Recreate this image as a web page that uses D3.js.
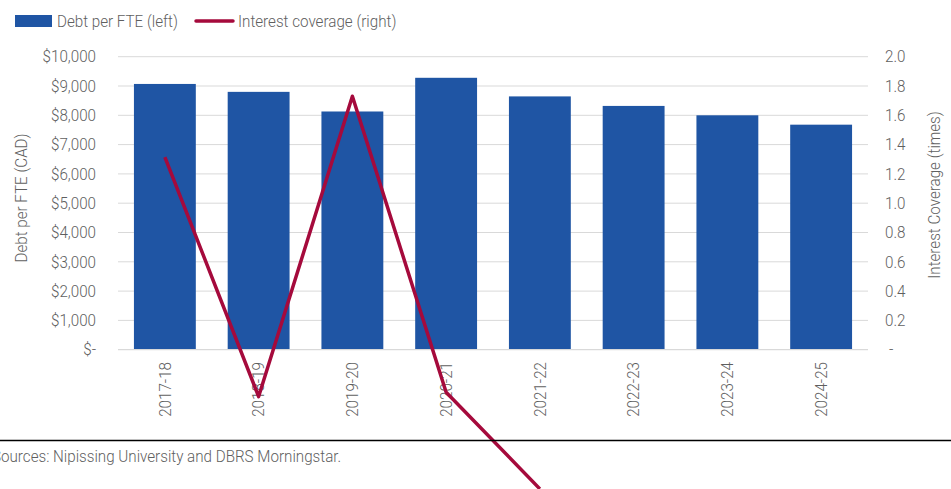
<!DOCTYPE html>
<html><head><meta charset="utf-8">
<script src="https://cdn.jsdelivr.net/npm/d3@7"></script>
<style>
html,body{margin:0;padding:0;background:#fff;overflow:hidden;}
text{font-family:Roboto,"Noto Sans",sans-serif;fill:#5f5f5f;font-size:16.5px;font-weight:300;}
</style></head>
<body>
<svg id="chart" width="951" height="489"></svg>
<script>
const categories = ["2017-18","2018-19","2019-20","2020-21","2021-22","2022-23","2023-24","2024-25"];
const debtPerFTE = [9070, 8800, 8130, 9280, 8645, 8320, 8000, 7680];
const interestCoverage = [1.315, -0.32, 1.73, -0.29, -0.95, null, null, null];
const leftTicks = [0,1000,2000,3000,4000,5000,6000,7000,8000,9000,10000];
const rightTicks = [0,0.2,0.4,0.6,0.8,1.0,1.2,1.4,1.6,1.8,2.0];
const legendLabels = ["Debt per FTE (left)", "Interest coverage (right)"];
const sourceText = "Sources: Nipissing University and DBRS Morningstar.";

const svg = d3.select("#chart");
const plot = {left:118, right:868, top:56.7, bottom:349.7};
const barColor = "#1f55a4", lineColor = "#a50a3c", gridColor = "#d9d9d9";

// horizontal condensing factor, so that the legend text matches the reference width
const probe = svg.append("text").text(legendLabels[0]);
const S = 121 / probe.node().getComputedTextLength();
probe.remove();

function txt(g, x, y, str, anchor, rot) {
  return g.append("text")
    .attr("transform", `translate(${x},${y}) rotate(${rot||0}) scale(${S},1)`)
    .attr("text-anchor", anchor || "start").attr("dy", "0.35em").text(str);
}

const x = d3.scaleBand().domain(categories).range([plot.left, plot.right]).paddingInner(0.34).paddingOuter(0.17);
const yL = d3.scaleLinear().domain([0,10000]).range([plot.bottom, plot.top]);
const yR = d3.scaleLinear().domain([0,2]).range([plot.bottom, plot.top]);

// gridlines
svg.append("g").selectAll("line").data(leftTicks.slice(1)).join("line")
  .attr("x1", plot.left).attr("x2", plot.right)
  .attr("y1", d=>yL(d)).attr("y2", d=>yL(d))
  .attr("stroke", gridColor).attr("stroke-width", 1);

// bars
svg.append("g").selectAll("rect").data(categories).join("rect")
  .attr("x", d=>x(d)).attr("width", x.bandwidth())
  .attr("y", (d,i)=>yL(debtPerFTE[i])).attr("height", (d,i)=>yL(0)-yL(debtPerFTE[i]))
  .attr("fill", barColor);

// baseline
svg.append("line").attr("x1", plot.left).attr("x2", plot.right)
  .attr("y1", plot.bottom).attr("y2", plot.bottom).attr("stroke", gridColor).attr("stroke-width", 1.2);

// left axis labels
const fmt = d => d===0 ? "$-" : "$" + d3.format(",")(d);
const gl = svg.append("g");
leftTicks.forEach(d => txt(gl, 96, yL(d), fmt(d), "end"));

// right axis labels
const gr = svg.append("g");
rightTicks.forEach(d => txt(gr, d===0 ? 889 : 885, yR(d), d===0 ? "-" : d3.format(".1f")(d), "start"));

// axis titles
const gt = svg.append("g");
txt(gt, 21, 198, "Debt per FTE (CAD)", "middle", -90);
txt(gt, 934, 195, "Interest Coverage (times)", "middle", -90);

// x labels
const gx = svg.append("g");
categories.forEach(c => txt(gx, x(c)+x.bandwidth()/2, 362, c, "end", -90));

// line
const pts = categories.map((c,i)=>({c, v: interestCoverage[i]})).filter(d=>d.v!==null);
svg.append("path").datum(pts)
  .attr("d", d3.line().x(d=>x(d.c)+x.bandwidth()/2).y(d=>yR(d.v)))
  .attr("fill","none").attr("stroke", lineColor).attr("stroke-width", 3.5)
  .attr("stroke-linejoin","round");

// source rule & text
svg.append("line").attr("x1",0).attr("x2",951).attr("y1",440.5).attr("y2",440.5)
  .attr("stroke","#000").attr("stroke-width",1.3);
txt(svg, -8, 456, sourceText, "start");

// legend
const lg = svg.append("g");
lg.append("rect").attr("x",15).attr("y",15).attr("width",37).attr("height",12).attr("fill",barColor);
txt(lg, 57, 21, legendLabels[0], "start");
lg.append("line").attr("x1",196).attr("x2",233).attr("y1",21).attr("y2",21)
  .attr("stroke",lineColor).attr("stroke-width",3.5).attr("stroke-linecap","round");
txt(lg, 238, 21, legendLabels[1], "start");
</script>
</body></html>
